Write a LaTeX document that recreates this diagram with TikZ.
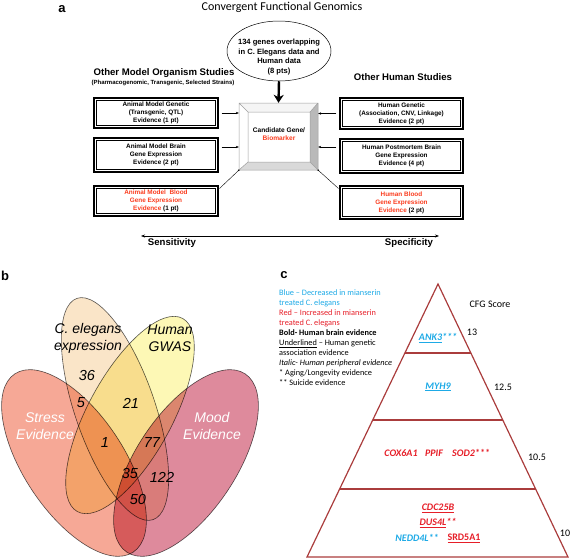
\documentclass[tikz,border=0pt]{standalone}
\usepackage{fontspec}
\setmainfont{Liberation Sans}
\newfontfamily\cali{Carlito}
\usetikzlibrary{shapes.geometric,arrows.meta,calc}
\definecolor{redA}{RGB}{250,60,30}
\definecolor{blueC}{RGB}{30,170,230}
\definecolor{redC}{RGB}{230,30,40}
\definecolor{triC}{RGB}{170,60,60}
\definecolor{stressC}{RGB}{240,110,80}
\definecolor{moodC}{RGB}{200,60,90}
\definecolor{ceC}{RGB}{245,200,140}
\definecolor{gwasC}{RGB}{250,240,100}
\tikzset{
  evbox/.style={draw, line width=1.6pt, double, double distance=1.2pt, align=center, inner sep=0,
    font=\bfseries\fontsize{6.4}{8}\selectfont},
  smallarrow/.style={-{Stealth[length=3pt,width=2.4pt]}, line width=0.4pt},
  heading/.style={font=\bfseries\fontsize{9.6}{11}\selectfont, inner sep=0},
  panel/.style={font=\bfseries\fontsize{13}{14}\selectfont, inner sep=0},
  venn/.style={fill opacity=0.48, draw opacity=1, draw=black!65, line width=0.6pt},
  vlabel/.style={font=\itshape\fontsize{14}{17}\selectfont, align=center, inner sep=0},
  vnum/.style={font=\itshape\fontsize{14.5}{16}\selectfont, inner sep=0},
  gene/.style={font=\cali\bfseries\itshape\fontsize{10}{12}\selectfont, inner sep=0},
  score/.style={font=\cali\fontsize{10}{12}\selectfont, inner sep=0},
  tier/.style={draw=triC, line width=1.4pt}
}
\begin{document}
\begin{tikzpicture}[x=1pt,y=-1pt]
\useasboundingbox (0,0) rectangle (571,560);
% ---------------- panel a ----------------
\node[panel] (pa) at (62,9) {a};
\node[font=\cali\fontsize{12}{14}\selectfont, inner sep=0] (title) at (282,7) {Convergent Functional Genomics};
\node[ellipse, draw, line width=0.5pt, minimum width=104, minimum height=60, inner sep=0] (ell) at (279,51) {};
\node[align=center, inner sep=0, font=\bfseries\fontsize{7.6}{9.6}\selectfont] (elltxt) at (279,57)
  {134 genes overlapping\\in C. Elegans data and\\Human data\\(8 pts)};
\node[heading] (hl) at (164,73) {Other Model Organism Studies};
\node[inner sep=0, font=\bfseries\fontsize{6}{7}\selectfont] (hls) at (163,83) {(Pharmacogenomic, Transgenic, Selected Strains)};
\node[heading] (hr) at (403,77) {Other Human Studies};
% bevel box
\fill[gray!8] (239,103) -- (318,103) -- (310,112) -- (248,112) -- cycle;
\fill[white] (239,103) -- (248,112) -- (248,162) -- (239,170) -- cycle;
\fill[gray!55] (318,103) -- (318,170) -- (310,162) -- (310,112) -- cycle;
\fill[gray!30] (239,170) -- (248,162) -- (310,162) -- (318,170) -- cycle;
\draw[gray!75, line width=0.5pt] (239,103) rectangle (318,170) (248,112) rectangle (310,162)
  (239,103) -- (248,112) (318,103) -- (310,112) (318,170) -- (310,162) (239,170) -- (248,162);
\node[minimum width=79, minimum height=67, inner sep=0] (cand) at (278.5,136.5) {};
\node[align=center, inner sep=0, font=\bfseries\fontsize{6.6}{8}\selectfont] (candtxt) at (279,134)
  {Candidate Gene/\\\textcolor{redA}{Biomarker}};
\draw[line width=2.4pt, -{Stealth[length=8pt,width=10pt,inset=2.5pt]}] (ell.south) -- (cand.north);
% left boxes
\node[evbox, minimum width=121.6, minimum height=27.6] (L1) at (156,113) {Animal Model Genetic\\(Transgenic, QTL)\\Evidence (1 pt)};
\node[evbox, minimum width=121.6, minimum height=31.6] (L2) at (156,155) {Animal Model Brain\\Gene Expression\\Evidence (2 pt)};
\node[evbox, minimum width=121.6, minimum height=27.6] (L3) at (156,201) {\textcolor{redA}{Animal Model\ \ Blood}\\\textcolor{redA}{Gene Expression}\\\textcolor{redA}{Evidence} (1 pt)};
% right boxes
\node[evbox, minimum width=120.6, minimum height=28.6] (R1) at (401.5,113.5) {Human Genetic\\(Association, CNV, Linkage)\\Evidence (2 pt)};
\node[evbox, minimum width=120.6, minimum height=31.6] (R2) at (401.5,156) {Human Postmortem Brain\\Gene Expression\\Evidence (4 pt)};
\node[evbox, minimum width=120.6, minimum height=30.6] (R3) at (401.5,202.5) {\textcolor{redA}{Human Blood}\\\textcolor{redA}{Gene Expression}\\\textcolor{redA}{Evidence} (2 pt)};
% connectors
\draw[smallarrow] ([xshift=4pt]L1.east) -- (L1.east -| cand.west);
\draw[smallarrow] ([xshift=4pt,yshift=8pt]L2.east) -- ([yshift=8pt]L2.east -| cand.west);
\draw[smallarrow] ([xshift=-4pt]R1.west) -- (R1.west -| cand.east);
\draw[smallarrow] ([xshift=-4pt,yshift=9pt]R2.west) -- ([yshift=9pt]R2.west -| cand.east);
\draw[line width=0.4pt] (cand.south west) -- ([xshift=2pt,yshift=-2pt]L3.north east);
\draw[line width=0.4pt] (cand.south east) -- ([xshift=-2pt,yshift=-2pt]R3.north west);
\fill (cand.south west) circle (0.9) (cand.south east) circle (0.9);
\coordinate (sensL) at (141,236);
\coordinate (specR) at (439,236);
\draw[line width=0.6pt, {Stealth[length=4pt,width=3pt]}-{Stealth[length=4pt,width=3pt]}] (sensL) -- (specR);
\node[heading] (sens) at (172,243.5) {Sensitivity};
\node[heading] (spec) at (409,243.5) {Specificity};
% ---------------- panel b ----------------
\node[panel] (pb) at (5,276) {b};
\begin{scope}[blend mode=multiply]
\filldraw[venn, fill opacity=0.6, fill=stressC, rotate around={-56.4:(74,463)}] (74,463) ellipse [x radius=107, y radius=50];
\filldraw[venn, fill opacity=0.6, fill=moodC, rotate around={56.4:(186,463)}] (186,463) ellipse [x radius=107, y radius=50];
\filldraw[venn, fill=ceC, rotate around={-71:(115,409)}] (115,409) ellipse [x radius=117, y radius=40];
\filldraw[venn, fill=gwasC, rotate around={61.4:(130,415)}] (130,415) ellipse [x radius=110, y radius=42];
\end{scope}
\node[vlabel] (lce) at (88,338.5) {C. elegans\\expression};
\node[vlabel] (lgw) at (170,338.5) {Human\\GWAS};
\node[vlabel, text=white] (lst) at (45,426) {Stress\\Evidence};
\node[vlabel, text=white] (lmo) at (212,426) {Mood\\Evidence};
\node[vnum] at (87,376) {36};
\node[vnum] at (81,403) {5};
\node[vnum] at (131,403) {21};
\node[vnum] at (105,443) {1};
\node[vnum] at (152,443) {77};
\node[vnum] at (130,474) {35};
\node[vnum] at (162,477) {122};
\node[vnum] at (138,500) {50};
% ---------------- panel c ----------------
\node[panel] (pc) at (284,275) {c};
\node[anchor=north west, align=left, inner sep=0, font=\cali\fontsize{8.3}{9.9}\selectfont] (legend) at (279,290)
 {\textcolor{blueC}{Blue – Decreased in mianserin}\\
  \textcolor{blueC}{treated C. elegans}\\
  \textcolor{redC}{Red – Increased in mianserin}\\
  \textcolor{redC}{treated C. elegans}\\
  \textbf{Bold- Human brain evidence}\\
  \underline{Underlined} – Human genetic\\
  association evidence\\
  \textit{Italic- Human peripheral evidence}\\
  * Aging/Longevity evidence\\
  ** Suicide evidence};
\draw[draw=triC, line width=1.2pt, line join=miter] (438,284) -- (568,557) -- (307,557) -- cycle;
\draw[tier] (404.9,353) -- (470.9,353);
\draw[tier] (372.7,420) -- (502.8,420);
\draw[tier] (339.6,489) -- (535.6,489);
\node[font=\cali\fontsize{10}{12}\selectfont, inner sep=0] (cfg) at (490,304) {CFG Score};
\node[score] at (472,332) {13};
\node[score] at (503,387) {12.5};
\node[score] at (537,457) {10.5};
\node[score] at (565,533) {10};
\node[gene, text=blueC] at (438,338) {\underline{ANK3}***};
\node[gene, text=blueC] at (438,387) {\underline{MYH9}};
\node[gene, text=redC] at (401,453) {COX6A1};
\node[gene, text=redC] at (434,453) {PPIF};
\node[gene, text=redC] at (471,453) {SOD2***};
\node[gene, text=redC] at (438,508) {\underline{CDC25B}};
\node[gene, text=redC] at (438,523) {\underline{DUS4L}**};
\node[gene, text=blueC] at (417,538) {NEDD4L**};
\node[gene, text=redC, font=\cali\bfseries\fontsize{10}{12}\selectfont] at (464,538) {\underline{SRD5A1}};
\end{tikzpicture}
\end{document}
